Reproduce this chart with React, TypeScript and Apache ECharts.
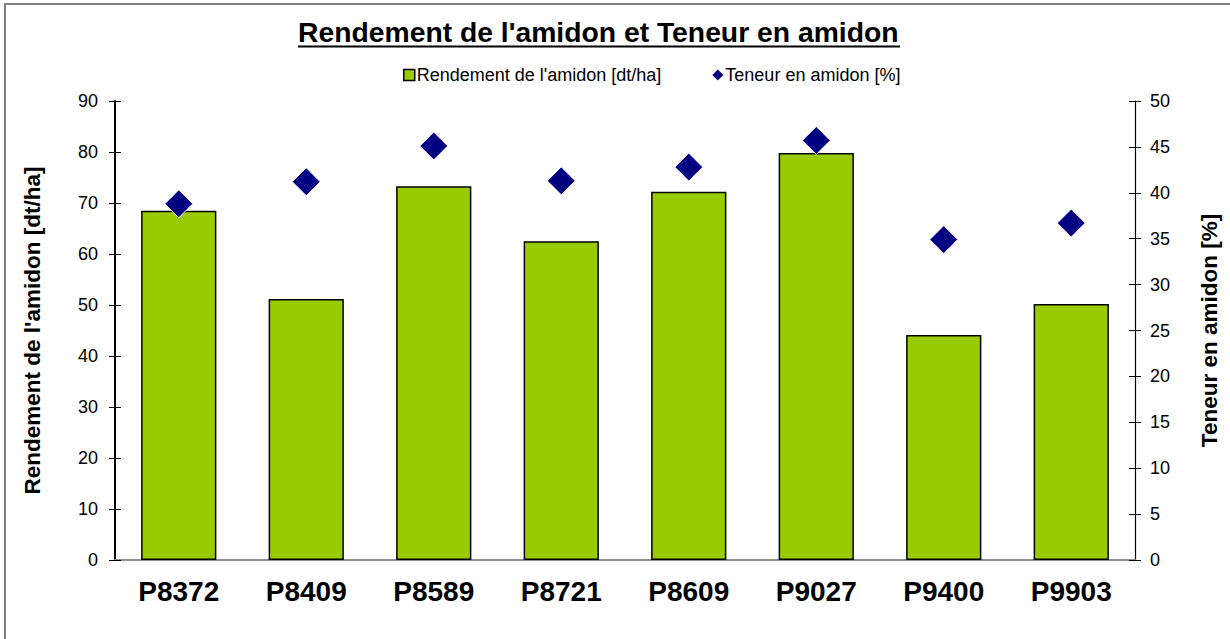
import React, { useEffect, useRef } from "react";
import * as echarts from "echarts";

const categories = ["P8372", "P8409", "P8589", "P8721", "P8609", "P9027", "P9400", "P9903"];
const rendement = [68.5, 51.2, 73.3, 62.5, 72.2, 79.8, 44.1, 50.2];
const teneur = [38.8, 41.2, 45.1, 41.3, 42.8, 45.7, 34.9, 36.7];
const titleText = "Rendement de l'amidon et Teneur en amidon";
const barName = "Rendement de l'amidon [dt/ha]";
const scatterName = "Teneur en amidon [%]";
const leftAxisName = "Rendement de l'amidon [dt/ha]";
const rightAxisName = "Teneur en amidon [%]";

const FONT = "'Liberation Sans', Arial, sans-serif";

export default function App() {
  const ref = useRef<HTMLDivElement>(null);
  useEffect(() => {
    if (!ref.current) return;
    const chart = echarts.init(ref.current, null, { renderer: "svg" });
    const tickCommon = { length: 6, lineStyle: { color: "#000", width: 1 } };
    chart.setOption({
      animation: false,
      backgroundColor: "#fff",
      textStyle: { fontFamily: FONT },
      title: {
        text: titleText,
        left: 298,
        top: 18,
        padding: 0,
        textStyle: { fontFamily: FONT, fontSize: 28.3, fontWeight: "bold", color: "#000" },
      },
      legend: {
        left: 398,
        top: 61,
        itemGap: 51,
        itemWidth: 11,
        itemHeight: 11,
        textStyle: { fontFamily: FONT, fontSize: 18, color: "#000", padding: [0, 0, 0, -3] },
        data: [
          { name: barName, icon: "rect", itemStyle: { color: "#99CC00", borderColor: "#000", borderWidth: 1.5 } },
          { name: scatterName, icon: "diamond", itemStyle: { color: "#000080", borderWidth: 0 } },
        ],
      },
      grid: { left: 115, right: 95, top: 101, bottom: 79, containLabel: false },
      xAxis: [
        {
          type: "category",
          data: categories,
          position: "bottom",
          axisLine: { lineStyle: { color: "#000", width: 1.5 } },
          axisTick: { ...tickCommon, inside: false, interval: 0 },
          axisLabel: { fontFamily: FONT, fontSize: 28, fontWeight: "bold", color: "#000", margin: 17 },
          splitLine: { show: false },
        },
        {
          type: "category",
          data: categories,
          position: "bottom",
          axisLine: { show: false },
          axisTick: { ...tickCommon, inside: true, interval: 0 },
          axisLabel: { show: false },
          splitLine: { show: false },
        },
        {
          type: "category",
          data: categories,
          position: "top",
          axisLine: { lineStyle: { color: "#909090", width: 2 } },
          axisTick: { show: false },
          axisLabel: { show: false },
          splitLine: { show: false },
        },
      ],
      yAxis: [
        {
          type: "value",
          min: 0,
          max: 90,
          interval: 10,
          position: "left",
          name: leftAxisName,
          nameLocation: "middle",
          nameGap: 71,
          nameTextStyle: { fontFamily: FONT, fontSize: 22.5, fontWeight: "bold", color: "#000" },
          axisLine: { show: true, lineStyle: { color: "#000", width: 2 } },
          axisTick: { show: true, ...tickCommon, inside: false },
          axisLabel: { fontFamily: FONT, fontSize: 18, color: "#000", margin: 17 },
          splitLine: { show: false },
        },
        {
          type: "value",
          min: 0,
          max: 50,
          interval: 5,
          position: "right",
          name: rightAxisName,
          nameLocation: "middle",
          nameGap: 63,
          nameRotate: 90,
          nameTextStyle: { fontFamily: FONT, fontSize: 22.5, fontWeight: "bold", color: "#000" },
          axisLine: { show: true, lineStyle: { color: "#000", width: 1.2 } },
          axisTick: { show: true, ...tickCommon, inside: false },
          axisLabel: { fontFamily: FONT, fontSize: 18, color: "#000", margin: 15 },
          splitLine: { show: false },
        },
        {
          type: "value",
          min: 0,
          max: 90,
          interval: 10,
          position: "left",
          axisLine: { show: false },
          axisTick: { show: true, ...tickCommon, inside: true },
          axisLabel: { show: false },
          splitLine: { show: false },
        },
        {
          type: "value",
          min: 0,
          max: 50,
          interval: 5,
          position: "right",
          axisLine: { show: false },
          axisTick: { show: true, ...tickCommon, inside: true },
          axisLabel: { show: false },
          splitLine: { show: false },
        },
      ],
      series: [
        {
          name: barName,
          type: "bar",
          xAxisIndex: 0,
          yAxisIndex: 0,
          data: rendement,
          barWidth: "59%",
          itemStyle: { color: "#99CC00", borderColor: "#000", borderWidth: 1.5 },
        },
        {
          name: scatterName,
          type: "scatter",
          xAxisIndex: 0,
          yAxisIndex: 1,
          data: teneur,
          symbol: "diamond",
          symbolSize: [28, 28],
          itemStyle: { color: "#000080", borderColor: "#fff", borderWidth: 1, opacity: 1 },
          z: 5,
        },
      ],
      graphic: [
        {
          type: "rect",
          shape: { x: 5, y: 4, width: 1240, height: 660 },
          style: { fill: "none", stroke: "#808080", lineWidth: 2 },
          silent: true,
        },
        {
          type: "line",
          shape: { x1: 298, y1: 46.5, x2: 900, y2: 46.5 },
          style: { stroke: "#000", lineWidth: 2 },
          silent: true,
        },
      ],
    });
    return () => chart.dispose();
  }, []);
  return (
    <div
      ref={ref}
      style={{ position: "fixed", left: 0, top: 0, width: 1230, height: 639, background: "#fff" }}
    />
  );
}
